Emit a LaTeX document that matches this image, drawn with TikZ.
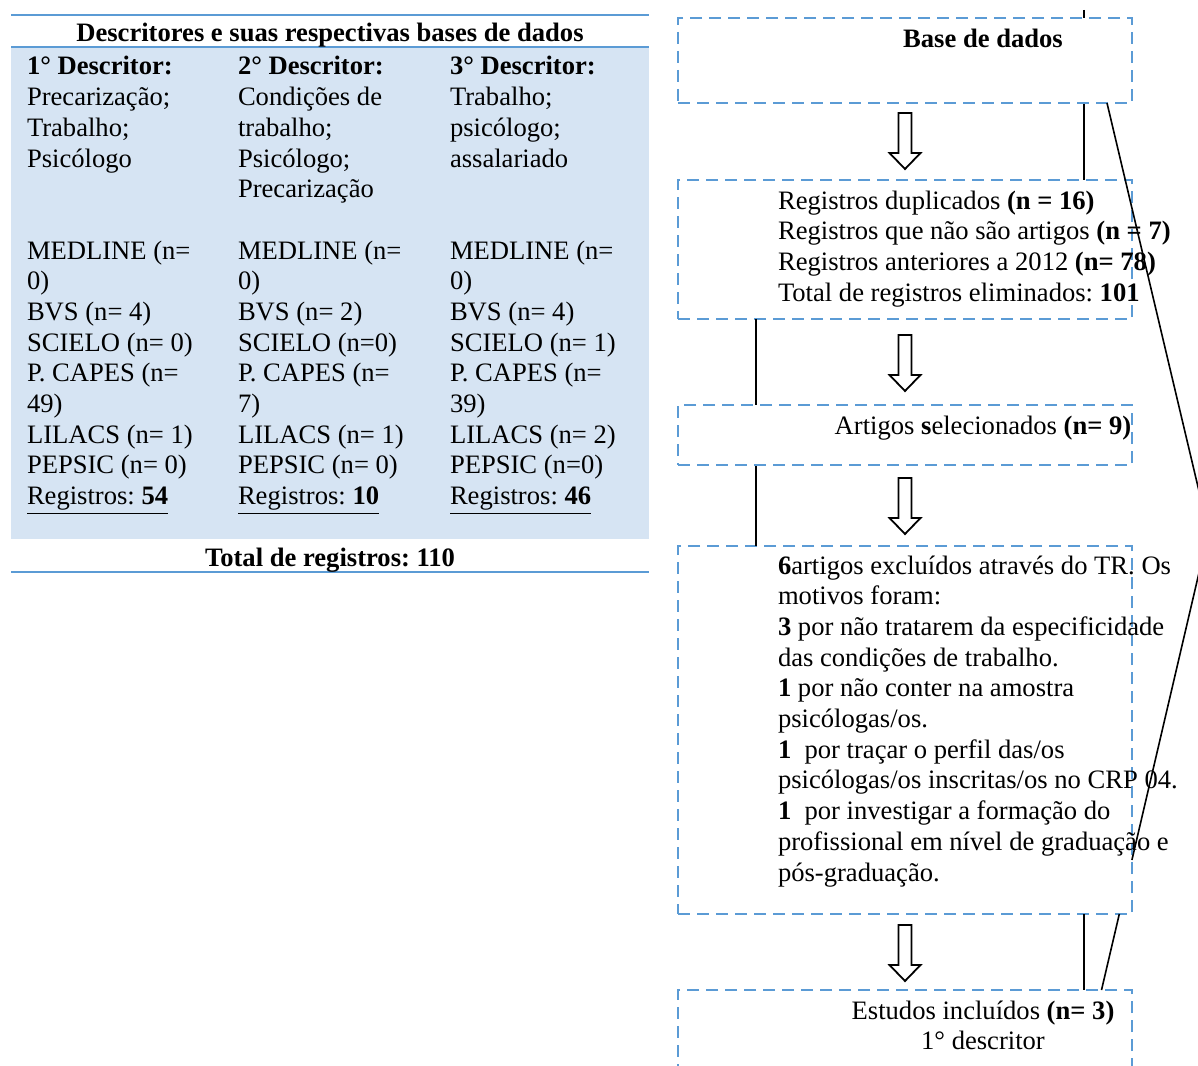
\documentclass[tikz,border=0pt]{standalone}
\usepackage{fontspec}
\setmainfont{Liberation Serif}
\frenchspacing
\definecolor{accent}{HTML}{5B9BD5}
\definecolor{tblfill}{RGB}{214,228,243}
\newcommand{\ltab}[1]{\begin{tabular}[t]{@{}l@{}}#1\end{tabular}}
\newcommand{\ctab}[1]{\begin{tabular}[t]{@{}c@{}}#1\end{tabular}}
\tikzset{
  blockarrow/.pic={\draw[line width=0.9pt, fill=white, line join=miter]
    (-6.5,0) -- (-6.5,40) -- (-15.5,40) -- (0,56) -- (15.5,40) -- (6.5,40) -- (6.5,0) -- cycle;}
}
\begin{document}
\begin{tikzpicture}[x=0.5pt,y=-0.5pt,
  every node/.style={font=\fontsize{13.3}{15.35}\selectfont\frenchspacing, inner sep=0pt, outer sep=0pt},
  txt/.style={anchor=base west},
  ctxt/.style={anchor=base},
  dbox/.style={draw=accent, line width=1.35pt, dash pattern=on 6pt off 3.5pt, fill=white, anchor=north west, minimum width=227pt},
  conn/.style={draw=black, line width=0.8pt},
]
\useasboundingbox (0,0) rectangle (1198,1065);
\clip (0,0) rectangle (1198,1065);

% ---------- left table ----------
\fill[tblfill] (11,48) rectangle (649,539);
\draw[accent, line width=1.35pt] (11,15) -- (649,15);
\draw[accent, line width=1pt] (11,47.5) -- (649,47.5);
\draw[accent, line width=1.35pt] (11,572) -- (649,572);

\node[ctxt] (title) at (330,42) {\textbf{Descritores e suas respectivas bases de dados}};
\node[txt] (c1h) at (27,75) {\ltab{\textbf{1° Descritor:}\\Precarização;\\Trabalho;\\Psicólogo}};
\node[txt] (c2h) at (238,75) {\ltab{\textbf{2° Descritor:}\\Condições de\\trabalho;\\Psicólogo;\\Precarização}};
\node[txt] (c3h) at (450,75) {\ltab{\textbf{3° Descritor:}\\Trabalho;\\psicólogo;\\assalariado}};
\node[txt] (c1d) at (27,259) {\ltab{MEDLINE (n=\\0)\\BVS (n= 4)\\SCIELO (n= 0)\\P. CAPES (n=\\49)\\LILACS (n= 1)\\PEPSIC (n= 0)\\\underline{Registros: \textbf{54}}}};
\node[txt] (c2d) at (238,259) {\ltab{MEDLINE (n=\\0)\\BVS (n= 2)\\SCIELO (n=0)\\P. CAPES (n=\\7)\\LILACS (n= 1)\\PEPSIC (n= 0)\\\underline{Registros: \textbf{10}}}};
\node[txt] (c3d) at (450,259) {\ltab{MEDLINE (n=\\0)\\BVS (n= 4)\\SCIELO (n= 1)\\P. CAPES (n=\\39)\\LILACS (n= 2)\\PEPSIC (n=0)\\\underline{Registros: \textbf{46}}}};
\node[ctxt] (total) at (330,566) {\textbf{Total de registros: 110}};

% ---------- right flow ----------
\coordinate (xr) at (1084,0);
\coordinate (xl) at (756,0);
\coordinate (top) at (1084,10);

\node[dbox, minimum height=69.5pt] (b2) at (678,180) {};
\node[dbox, minimum height=184pt] (b4) at (678,546) {};
\node[dbox, minimum height=60pt] (b5) at (678,990) {};

% connectors behind the boxes b1 and b3
\draw[conn] (top) -- (b2.north -| xr);
\draw[conn] (b2.south -| xl) -- (b4.north -| xl);
\draw[conn] (b4.south -| xr) -- (b5.north -| xr);

\node[dbox, minimum height=42.5pt] (b1) at (678,18) {};
\node[dbox, minimum height=30pt] (b3) at (678,405) {};

\pic at (905,113) {blockarrow};
\pic at (905,335) {blockarrow};
\pic at (905,478) {blockarrow};
\pic at (905,925) {blockarrow};

\node[ctxt] (t1) at (983,48) {\textbf{Base de dados}};
\node[txt] (t2) at (778,209) {\ltab{Registros duplicados \textbf{(n = 16)}\\Registros que não são artigos \textbf{(n = 7)}\\Registros anteriores a 2012 \textbf{(n= 78)}\\Total de registros eliminados: \textbf{101}}};
\node[ctxt] (t3) at (983,434) {Artigos \textbf{s}elecionados \textbf{(n= 9)}};
\node[txt] (t4) at (778,574) {\ltab{\textbf{6}artigos excluídos através do TR. Os\\motivos foram:\\\textbf{3} por não tratarem da especificidade\\das condições de trabalho.\\\textbf{1} por não conter na amostra\\psicólogas/os.\\\textbf{1}\ \ por traçar o perfil das/os\\psicólogas/os inscritas/os no CRP 04.\\\textbf{1}\ \ por investigar a formação do\\profissional em nível de graduação e\\pós-graduação.}};
\node[ctxt] (t5) at (983,1019) {\ctab{Estudos incluídos \textbf{(n= 3)}\\1° descritor}};

% diagonal connector (drawn over boxes)
\coordinate (d0) at (1107,103);
\coordinate (pk) at (1208.6,531.6);
\coordinate (d1) at (1131.9,860);
\coordinate (d2) at (1119.3,914);
\coordinate (d3) at (1101.5,990);
\draw[conn] (d0) -- (pk) -- (d1);
\draw[conn] (d2) -- (d3);
\end{tikzpicture}
\end{document}
